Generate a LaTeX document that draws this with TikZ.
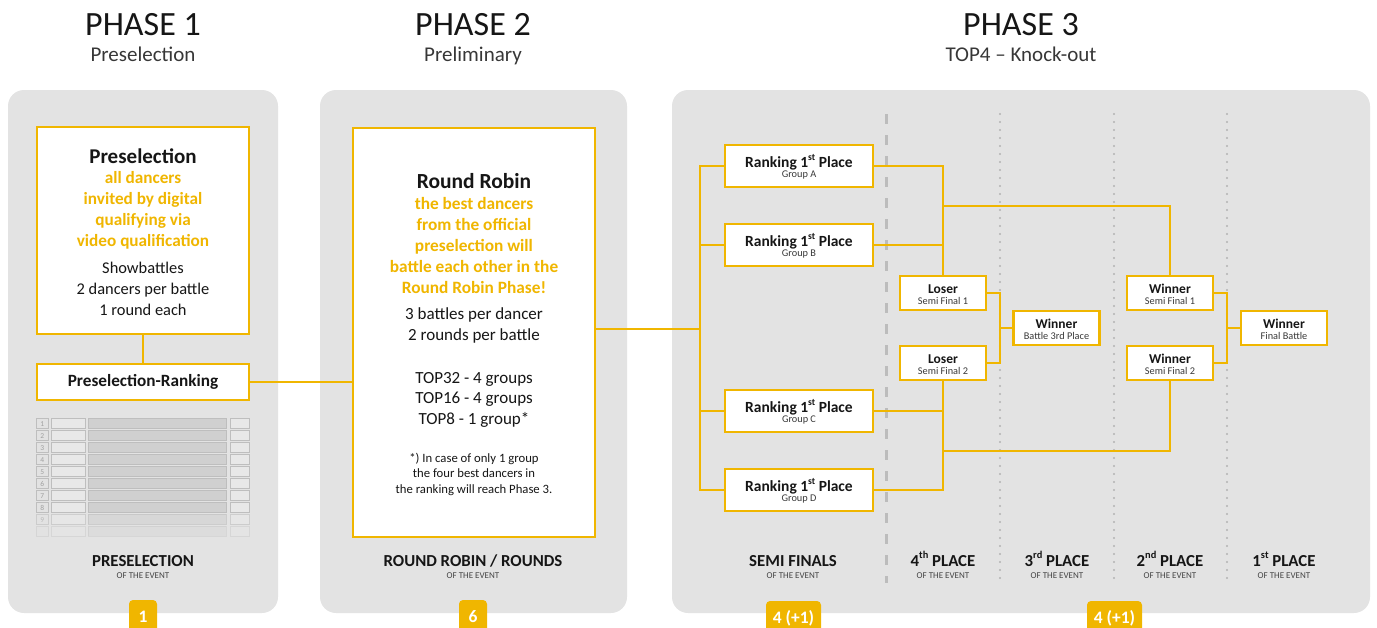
\documentclass[tikz,border=0pt]{standalone}
\usepackage{fontspec}
\setmainfont{Carlito}
\usetikzlibrary{calc}
\definecolor{org}{RGB}{240,182,0}
\definecolor{panel}{RGB}{227,227,227}
\definecolor{divg}{RGB}{188,188,188}
\definecolor{dotg}{RGB}{178,178,178}
\definecolor{ink}{RGB}{22,22,22}
\definecolor{subc}{RGB}{55,55,55}
\definecolor{cellA}{RGB}{226,226,226}
\definecolor{cellB}{RGB}{208,208,208}
\definecolor{cellS}{RGB}{190,190,190}
\definecolor{numc}{RGB}{160,160,160}
\newcommand{\fs}[2]{\fontsize{#1}{#2}\selectfont}
\newcommand{\supr}[1]{\raisebox{0.42em}{\scalebox{0.62}{#1}}}
\begin{document}
\begin{tikzpicture}[x=1pt,y=-1pt,
  panelbox/.style={fill=panel, rounded corners=16pt},
  obox/.style={draw=org, line width=2.2pt, fill=white, inner sep=0pt},
  rk/.style={obox, minimum width=148pt, minimum height=42pt},
  sm/.style={obox, minimum width=86pt, minimum height=34pt},
  conn/.style={draw=org, line width=1.8pt},
  badge/.style={fill=org, rounded corners=4pt, text=white, inner sep=0pt, minimum height=34pt, font=\bfseries\fs{17.5}{20}},
  hdr/.style={anchor=base, text=ink, font=\fs{34}{40}},
  hsub/.style={anchor=base, text=subc, font=\fs{21}{25}},
  ttl/.style={anchor=base, text=ink, font=\bfseries\fs{15.5}{18}},
  ttls/.style={anchor=base, text=ink, font=\bfseries\fs{13.5}{16}},
  subt/.style={anchor=base, text=ink!85, font=\fs{10.3}{12}},
  botl/.style={anchor=base, text=ink, font=\bfseries\fs{16.8}{19}},
  boev/.style={anchor=base, text=ink!80, font=\fs{9}{10}},
  orgl/.style={anchor=base, text=org, font=\bfseries\fs{17.3}{21}},
  blkl/.style={anchor=base, text=ink, font=\fs{17}{21}},
  cellst/.style={draw=cellS, line width=0.9pt},
]
\useasboundingbox (0,0) rectangle (1377,627);

% headers
\node[hdr] (h1) at (143,35) {PHASE 1};
\node[hsub] (s1) at (143,61) {Preselection};
\node[hdr] (h2) at (473,35) {PHASE 2};
\node[hsub] (s2) at (473,61) {Preliminary};
\node[hdr] (h3) at (1021,35) {PHASE 3};
\node[hsub] (s3) at (1021,61) {TOP4 -- Knock-out};

% panels
\fill[panelbox] (8,90) rectangle (278,613);
\fill[panelbox] (320,90) rectangle (627,613);
\fill[panelbox] (672,90) rectangle (1370,613);

% dividers
\draw[divg, line width=3pt, dash pattern=on 10pt off 11pt] (886,114) -- (886,583);
\foreach \xx in {1000,1114,1227}
  \draw[dotg, line width=2.4pt, line cap=round, dash pattern=on 0pt off 8pt] (\xx,114) -- (\xx,583);

% ---------- Phase 1 ----------
\node[obox, minimum width=212pt, minimum height=207pt] (pre) at (143,230.5) {};
\node[anchor=base, text=ink, font=\bfseries\fs{21}{24}] (pret) at (143,163) {Preselection};
\foreach \t [count=\k] in {all dancers,invited by digital,qualifying via,video qualification}
  \node[orgl, font=\bfseries\fs{17.2}{21}] (preo\k) at (143,{183+21*(\k-1)}) {\t};
\foreach \t [count=\k] in {Showbattles,2 dancers per battle,1 round each}
  \node[blkl, font=\fs{16.4}{21}] (preb\k) at (143,{273+21*(\k-1)}) {\t};
\node[obox, minimum width=212pt, minimum height=36pt, text=ink, font=\bfseries\fs{17.2}{20}] (prk) at (143,382) {Preselection-Ranking};

% table
\foreach \i in {1,...,10} {
  \pgfmathsetmacro{\yy}{418+12*(\i-1)}
  \pgfmathsetmacro{\op}{\i<9 ? 1 : (\i<10 ? 0.6 : 0.35)}
  \begin{scope}[opacity=\op]
    \filldraw[cellst, fill=cellA] (36,\yy) rectangle (48.7,\yy+10);
    \filldraw[cellst, fill=cellA!80!white] (51.7,\yy) rectangle (85,\yy+10);
    \filldraw[cellst, fill=cellB] (88.3,\yy) rectangle (226,\yy+10);
    \filldraw[cellst, fill=cellA!80!white] (230,\yy) rectangle (249.7,\yy+10);
  \end{scope}
}
\foreach \i in {1,...,9} {
  \pgfmathsetmacro{\yy}{418+12*(\i-1)+8}
  \node[anchor=base, text=numc, font=\fs{7.5}{9}, inner sep=0pt, opacity={\i<9 ? 1 : 0.6}] at (42.3,\yy) {\i};
}

\node[botl] (bl1) at (143,566) {PRESELECTION};
\node[boev] (be1) at (143,578) {OF THE EVENT};

% ---------- Phase 2 ----------
\node[obox, minimum width=242pt, minimum height=409pt] (rr) at (474,332.5) {};
\node[anchor=base, text=ink, font=\bfseries\fs{21.5}{24}] (rrt) at (474,188) {Round Robin};
\foreach \t [count=\k] in {the best dancers,from the official,preselection will,battle each other in the,Round Robin Phase!}
  \node[orgl] (rro\k) at (474,{209+21*(\k-1)}) {\t};
\foreach \t [count=\k] in {3 battles per dancer,2 rounds per battle}
  \node[blkl] (rrb\k) at (474,{319+21*(\k-1)}) {\t};
\foreach \t [count=\k] in {TOP32 - 4 groups,TOP16 - 4 groups,TOP8 - 1 group*}
  \node[blkl] (rrc\k) at (474,{383+20.5*(\k-1)}) {\t};
\foreach \t [count=\k] in {*) In case of only 1 group,the four best dancers in,the ranking will reach Phase 3.}
  \node[anchor=base, text=ink, font=\fs{12.7}{15.5}] (rrf\k) at (474,{462+15.5*(\k-1)}) {\t};

\node[botl] (bl2) at (473,566) {ROUND ROBIN / ROUNDS};
\node[boev] (be2) at (473,578) {OF THE EVENT};

% ---------- Phase 3 ----------
\node[rk] (ga) at (799,166) {};
\node[rk] (gb) at (799,245) {};
\node[rk] (gc) at (799,411) {};
\node[rk] (gd) at (799,490) {};
\foreach \g/\lab in {ga/A,gb/B,gc/C,gd/D} {
  \node[ttl] (\g t) at ($(\g.center)+(0,1)$) {Ranking 1\supr{st} Place};
  \node[subt] (\g s) at ($(\g.center)+(0,11)$) {Group \lab};
}
\node[sm] (ls1) at (943,293) {};
\node[sm] (ls2) at (943,363) {};
\node[sm] (w3) at (1056.5,328) {};
\node[sm] (ws1) at (1170,293) {};
\node[sm] (ws2) at (1170,363) {};
\node[sm] (fin) at (1284,328) {};
\foreach \n/\a/\b in {ls1/Loser/Semi Final 1, ls2/Loser/Semi Final 2, w3/Winner/Battle 3rd Place, ws1/Winner/Semi Final 1, ws2/Winner/Semi Final 2, fin/Winner/Final Battle} {
  \node[ttls] (\n t) at ($(\n.center)+(0,0)$) {\a};
  \node[subt] (\n s) at ($(\n.center)+(0,11)$) {\b};
}

% connectors
\coordinate (lbr) at (700,329);
\coordinate (jt) at (943,206);
\coordinate (jb) at (943,451);
\coordinate (b3) at (1000,328);
\coordinate (bf) at (1227,328);
\draw[conn] (pre.south) -- (prk.north);
\draw[conn] (prk.east) -- (prk.east -| rr.west);
\draw[conn] (rr.east |- lbr) -- (lbr);
\draw[conn] (ga.west) -- (ga.west -| lbr) -- (gd.west -| lbr) -- (gd.west);
\draw[conn] (gb.west) -- (gb.west -| lbr);
\draw[conn] (gc.west) -- (gc.west -| lbr);
\draw[conn] (ga.east) -- (ga.east -| ls1) -- (ls1.north);
\draw[conn] (gb.east) -- (gb.east -| ls1);
\draw[conn] (gc.east) -- (gc.east -| ls2);
\draw[conn] (gd.east) -- (gd.east -| ls2) -- (ls2.south);
\draw[conn] (jt) -- (jt -| ws1) -- (ws1.north);
\draw[conn] (jb) -- (jb -| ws2) -- (ws2.south);
\draw[conn] (ls1.east) -- (ls1.east -| b3) -- (ls2.east -| b3) -- (ls2.east);
\draw[conn] (b3) -- (w3.west);
\draw[conn] (ws1.east) -- (ws1.east -| bf) -- (ws2.east -| bf) -- (ws2.east);
\draw[conn] (bf) -- (fin.west);

% bottom labels phase 3
\node[botl] (bl3) at (793,566) {SEMI FINALS};
\node[boev] (be3) at (793,578) {OF THE EVENT};
\node[botl] (bl4) at (943,566) {4\supr{th} PLACE};
\node[boev] (be4) at (943,578) {OF THE EVENT};
\node[botl] (bl5) at (1057,566) {3\supr{rd} PLACE};
\node[boev] (be5) at (1057,578) {OF THE EVENT};
\node[botl] (bl6) at (1170,566) {2\supr{nd} PLACE};
\node[boev] (be6) at (1170,578) {OF THE EVENT};
\node[botl] (bl7) at (1284,566) {1\supr{st} PLACE};
\node[boev] (be7) at (1284,578) {OF THE EVENT};

% badges
\begin{scope}
  \clip (0,0) rectangle (1377,627);
  \node[badge, minimum width=28pt] (bd1) at (143,617) {1};
  \node[badge, minimum width=28pt] (bd2) at (473,617) {6};
  \node[badge, minimum width=55pt] (bd3) at (793.5,618) {4 (+1)};
  \node[badge, minimum width=55pt] (bd4) at (1114.5,618) {4 (+1)};
\end{scope}
\end{tikzpicture}
\end{document}
